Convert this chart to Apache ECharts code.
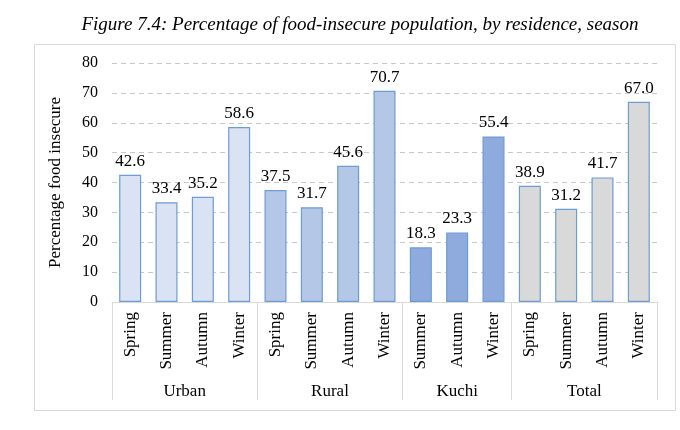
<!DOCTYPE html>
<html>
<head>
<meta charset="utf-8">
<script src="https://cdn.jsdelivr.net/npm/echarts@6/dist/echarts.min.js"></script>
<style>
  html, body { margin: 0; padding: 0; background: #fff; }
  #chart { width: 680px; height: 430px; }
</style>
</head>
<body>
<div id="chart"></div>
<script>
// data
var seasons = ['Spring', 'Summer', 'Autumn', 'Winter',
               'Spring', 'Summer', 'Autumn', 'Winter',
               'Summer', 'Autumn', 'Winter',
               'Spring', 'Summer', 'Autumn', 'Winter'];
var groupOf = [0, 0, 0, 0, 1, 1, 1, 1, 2, 2, 2, 3, 3, 3, 3];
var values = [42.6, 33.4, 35.2, 58.6, 37.5, 31.7, 45.6, 70.7,
              18.3, 23.3, 55.4, 38.9, 31.2, 41.7, 67.0];
var groups = ['Urban', 'Rural', 'Kuchi', 'Total'];
var groupEdges = [0, 4, 8, 11, 15];
var yTicks = [0, 10, 20, 30, 40, 50, 60, 70, 80];

var groupColors = ['#dae3f3', '#b4c7e7', '#8faadc', '#d9d9d9'];
var serif = '"Liberation Serif", "DejaVu Serif", serif';

// label position = middle of each group's span
var groupMids = [];
for (var g = 0; g < groups.length; g++) {
    groupMids.push((groupEdges[g] + groupEdges[g + 1]) / 2);
}

var chart = echarts.init(document.getElementById('chart'));

var option = {
    animation: false,
    title: {
        text: 'Figure 7.4: Percentage of food-insecure population, by residence, season',
        left: 355,
        textAlign: 'center',
        top: 10,
        textStyle: { fontFamily: serif, fontStyle: 'italic', fontWeight: 'normal', fontSize: 19, color: '#000' }
    },
    graphic: [{
        type: 'rect',
        shape: { x: 34.5, y: 44.5, width: 641, height: 366 },
        style: { fill: 'none', stroke: '#d9d9d9', lineWidth: 1 },
        z: -1
    }],
    grid: { left: 112, right: 23, top: 63, bottom: 128 },
    xAxis: [{
        type: 'category',
        data: seasons,
        axisLine: { lineStyle: { color: '#d9d9d9' } },
        axisTick: { show: false },
        axisLabel: {
            rotate: 90, interval: 0, margin: 10,
            fontFamily: serif, fontSize: 17, color: '#000'
        }
    }, {
        type: 'value',
        min: 0,
        max: 15,
        position: 'bottom',
        axisLine: { show: false },
        splitLine: { show: false },
        axisTick: {
            show: true, length: 98, customValues: groupEdges,
            lineStyle: { color: '#d9d9d9' }
        },
        axisLabel: {
            customValues: groupMids, margin: 81,
            fontFamily: serif, fontSize: 17, color: '#000',
            formatter: function (v) {
                var i = groupMids.indexOf(v);
                return i >= 0 ? groups[i] : '';
            }
        }
    }],
    yAxis: {
        type: 'value',
        min: yTicks[0],
        max: yTicks[yTicks.length - 1],
        interval: 10,
        name: 'Percentage food insecure',
        nameLocation: 'middle',
        nameGap: 48,
        nameTextStyle: { fontFamily: serif, fontSize: 17, color: '#000' },
        axisLine: { show: false },
        axisTick: { show: false },
        axisLabel: { margin: 14, fontFamily: serif, fontSize: 16, color: '#000' },
        splitLine: { lineStyle: { color: '#c8c8c8', type: [5, 4] } }
    },
    series: [{
        type: 'bar',
        xAxisIndex: 0,
        barWidth: 22,
        data: values.map(function (v, i) {
            return { value: v, itemStyle: { color: groupColors[groupOf[i]] } };
        }),
        itemStyle: { borderColor: '#6d9bd3', borderWidth: 1.2 },
        label: {
            show: true, position: 'top', distance: 5,
            fontFamily: serif, fontSize: 17, color: '#000',
            formatter: function (p) { return p.value.toFixed(1); }
        }
    }]
};

chart.setOption(option);
</script>
</body>
</html>
